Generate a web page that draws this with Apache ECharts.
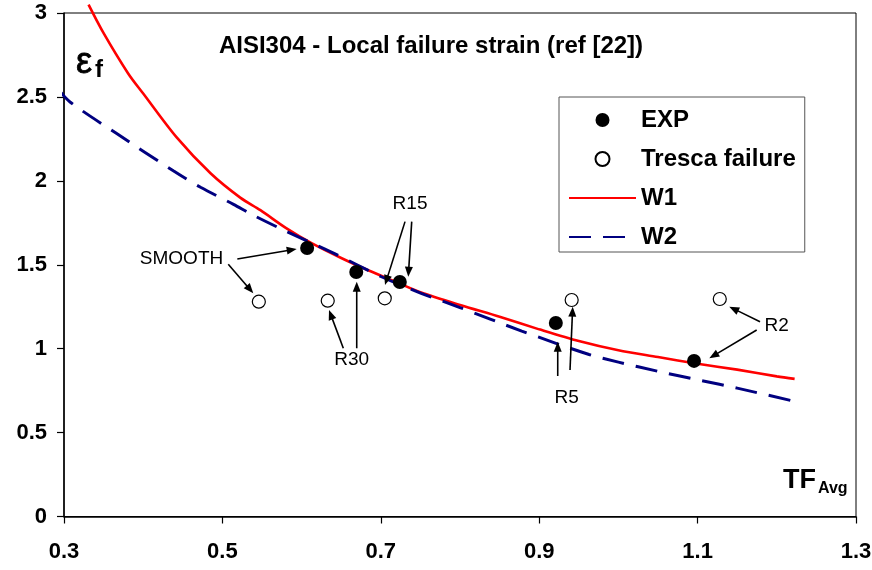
<!DOCTYPE html>
<html><head><meta charset="utf-8">
<script src="https://cdn.jsdelivr.net/npm/echarts@6/dist/echarts.min.js"></script>
<style>html,body{margin:0;padding:0;background:#fff}#c{width:872px;height:570px}</style>
</head><body><div id="c"></div>
<script>
const FONT = '"Liberation Sans", Arial, Helvetica, sans-serif';

// axis ticks
const xTicks = [0.3, 0.5, 0.7, 0.9, 1.1, 1.3];

// W1 curve
const w1X = [0.331, 0.35, 0.381, 0.40, 0.442, 0.485, 0.5225, 0.548, 0.58, 0.612, 0.65, 0.684, 0.72, 0.75, 0.80, 0.85, 0.90, 0.95, 1.00, 1.05, 1.10, 1.15, 1.20, 1.2225];
const w1Y = [3.05, 2.88, 2.64, 2.52, 2.26, 2.045, 1.90, 1.825, 1.72, 1.63, 1.54, 1.467, 1.396, 1.336, 1.26, 1.19, 1.115, 1.045, 0.99, 0.95, 0.91, 0.875, 0.835, 0.82];

// W2 curve
const w2X = [0.292, 0.3076, 0.367, 0.438, 0.473, 0.514, 0.539, 0.578, 0.641, 0.70, 0.751, 0.80, 0.878, 0.963, 1.00, 1.05, 1.105, 1.15, 1.2225];
const w2Y = [2.55, 2.47, 2.28, 2.06, 1.96, 1.86, 1.795, 1.705, 1.568, 1.43, 1.33, 1.245, 1.105, 0.965, 0.92, 0.865, 0.81, 0.765, 0.686];

// experimental points
const expX = [0.607, 0.669, 0.724, 0.921, 1.0955];
const expY = [1.600, 1.457, 1.397, 1.153, 0.927];

// Tresca failure points
const trX = [0.546, 0.633, 0.705, 0.941, 1.128];
const trY = [1.280, 1.286, 1.300, 1.290, 1.296];

// annotation labels
const annoText = ['SMOOTH', 'R30', 'R15', 'R5', 'R2'];
const annoX = [0.4484, 0.6633, 0.7369, 0.9347, 1.1999];
const annoY = [1.5346, 0.9327, 1.8623, 0.7092, 1.1365];

// annotation arrows (from -> to)
const arrFromX = [0.5188, 0.5074, 0.6527, 0.6696, 0.7306, 0.7390, 0.9234, 0.9389, 1.1788, 1.1746];
const arrFromY = [1.5346, 1.5030, 1.0024, 1.0024, 1.7569, 1.7569, 0.8373, 0.8730, 1.1609, 1.1114];
const arrToX   = [0.5938, 0.5390, 0.6346, 0.6696, 0.7053, 0.7347, 0.9234, 0.9423, 1.1400, 1.1148];
const arrToY   = [1.5940, 1.3300, 1.2306, 1.3993, 1.3796, 1.4290, 1.0417, 1.2503, 1.2503, 0.9428];

const zip = (a, b) => a.map((v, i) => [v, b[i]]);
const hideSym = {color: 'rgba(0,0,0,0)', borderWidth: 0, opacity: 0};

function renderArrow(params, api) {
  const p0 = api.coord([api.value(0), api.value(1)]);
  const p1 = api.coord([api.value(2), api.value(3)]);
  const dx = p1[0] - p0[0], dy = p1[1] - p0[1];
  const len = Math.sqrt(dx * dx + dy * dy) || 1;
  const ux = dx / len, uy = dy / len;
  const hl = 10, hw = 4;
  const bx = p1[0] - ux * hl, by = p1[1] - uy * hl;
  return {
    type: 'group',
    children: [
      {type: 'line', shape: {x1: p0[0], y1: p0[1], x2: bx + ux * 1, y2: by + uy * 1},
        style: {stroke: '#000', lineWidth: 1.6}},
      {type: 'polygon', shape: {points: [[p1[0], p1[1]], [bx - uy * hw, by + ux * hw], [bx + uy * hw, by - ux * hw]]},
        style: {fill: '#000'}}
    ]
  };
}

const chart = echarts.init(document.getElementById('c'), null, {renderer: 'canvas'});
chart.setOption({
  animation: false,
  backgroundColor: '#fff',
  textStyle: {fontFamily: FONT},
  grid: {left: 64, right: 16, top: 13, bottom: 53.5, show: true, borderColor: '#000', borderWidth: 1, containLabel: false, outerBoundsMode: 'none'},
  xAxis: {
    type: 'value', min: 0.3, max: 1.3,
    axisLine: {show: true, onZero: false, lineStyle: {color: '#000', width: 1.5}},
    axisTick: {show: true, customValues: xTicks, length: 7, lineStyle: {color: '#000', width: 1.2}},
    axisLabel: {customValues: xTicks, margin: 24, color: '#000', fontSize: 22, fontWeight: 'bold', fontFamily: FONT,
      formatter: v => String(Math.round(v * 10) / 10)},
    splitLine: {show: false}
  },
  yAxis: {
    type: 'value', min: 0, max: 3, interval: 0.5,
    axisLine: {show: true, onZero: false, lineStyle: {color: '#000', width: 1.5}},
    axisTick: {show: true, length: 7, lineStyle: {color: '#000', width: 1.2}},
    axisLabel: {margin: 17, color: '#000', fontSize: 22, fontWeight: 'bold', fontFamily: FONT},
    splitLine: {show: false}
  },
  legend: {
    orient: 'vertical', left: 559, top: 97,
    padding: [11, 9, 3, 9], itemGap: 15, itemWidth: 67, itemHeight: 14,
    borderColor: '#555', borderWidth: 1, backgroundColor: '#fff',
    textStyle: {fontSize: 24, fontWeight: 'bold', color: '#000', fontFamily: FONT, lineHeight: 22},
    selectedMode: false,
    data: [
      {name: 'EXP'},
      {name: 'Tresca failure'},
      {name: 'W1', itemStyle: hideSym},
      {name: 'W2', itemStyle: hideSym}
    ]
  },
  series: [
    {name: 'W1', type: 'line', data: zip(w1X, w1Y), symbol: 'none', smooth: 0.3, clip: false,
      lineStyle: {color: '#ff0000', width: 2.6}, itemStyle: {color: '#ff0000'}, z: 2},
    {name: 'W2', type: 'line', data: zip(w2X, w2Y), symbol: 'none', smooth: 0.3, clip: false,
      lineStyle: {color: '#000080', width: 3, type: [22, 12]}, itemStyle: {color: '#000080'}, z: 3},
    {name: 'Tresca failure', type: 'scatter', data: zip(trX, trY), symbol: 'circle', symbolSize: 13,
      itemStyle: {color: '#fff', borderColor: '#000', borderWidth: 1.2, opacity: 1}, z: 5},
    {name: 'EXP', type: 'scatter', data: zip(expX, expY), symbol: 'circle', symbolSize: 14,
      itemStyle: {color: '#000', borderColor: '#000', borderWidth: 0, opacity: 1}, z: 5,
      markPoint: {
        silent: true, symbol: 'circle', symbolSize: 1, itemStyle: {color: 'rgba(0,0,0,0)'},
        label: {show: true, position: 'inside', color: '#000', fontSize: 19, fontFamily: FONT, formatter: p => p.name},
        data: annoText.map((t, i) => ({name: t, coord: [annoX[i], annoY[i]]}))
      }
    },
    {name: 'arrows', type: 'custom', silent: true, clip: false, z: 6,
      data: arrFromX.map((x, i) => [x, arrFromY[i], arrToX[i], arrToY[i]]),
      encode: {x: [0, 2], y: [1, 3]},
      renderItem: renderArrow}
  ],
  graphic: [
    {type: 'text', x: 431, y: 46, style: {text: 'AISI304 - Local failure strain (ref [22])', font: 'bold 24px ' + FONT, fill: '#000', textAlign: 'center', textVerticalAlign: 'middle'}},
    {type: 'text', x: 76, y: 63, style: {text: 'ε', font: '36px ' + FONT, fill: '#000', stroke: '#000', lineWidth: 0.8, textAlign: 'left', textVerticalAlign: 'middle'}},
    {type: 'text', x: 95, y: 70, style: {text: 'f', font: 'bold 24px ' + FONT, fill: '#000', textAlign: 'left', textVerticalAlign: 'middle'}},
    {type: 'text', x: 783, y: 481, style: {text: 'TF', font: 'bold 27px ' + FONT, fill: '#000', textAlign: 'left', textVerticalAlign: 'middle'}},
    {type: 'text', x: 818, y: 489, style: {text: 'Avg', font: 'bold 16px ' + FONT, fill: '#000', textAlign: 'left', textVerticalAlign: 'middle'}}
  ]
});
</script></body></html>
